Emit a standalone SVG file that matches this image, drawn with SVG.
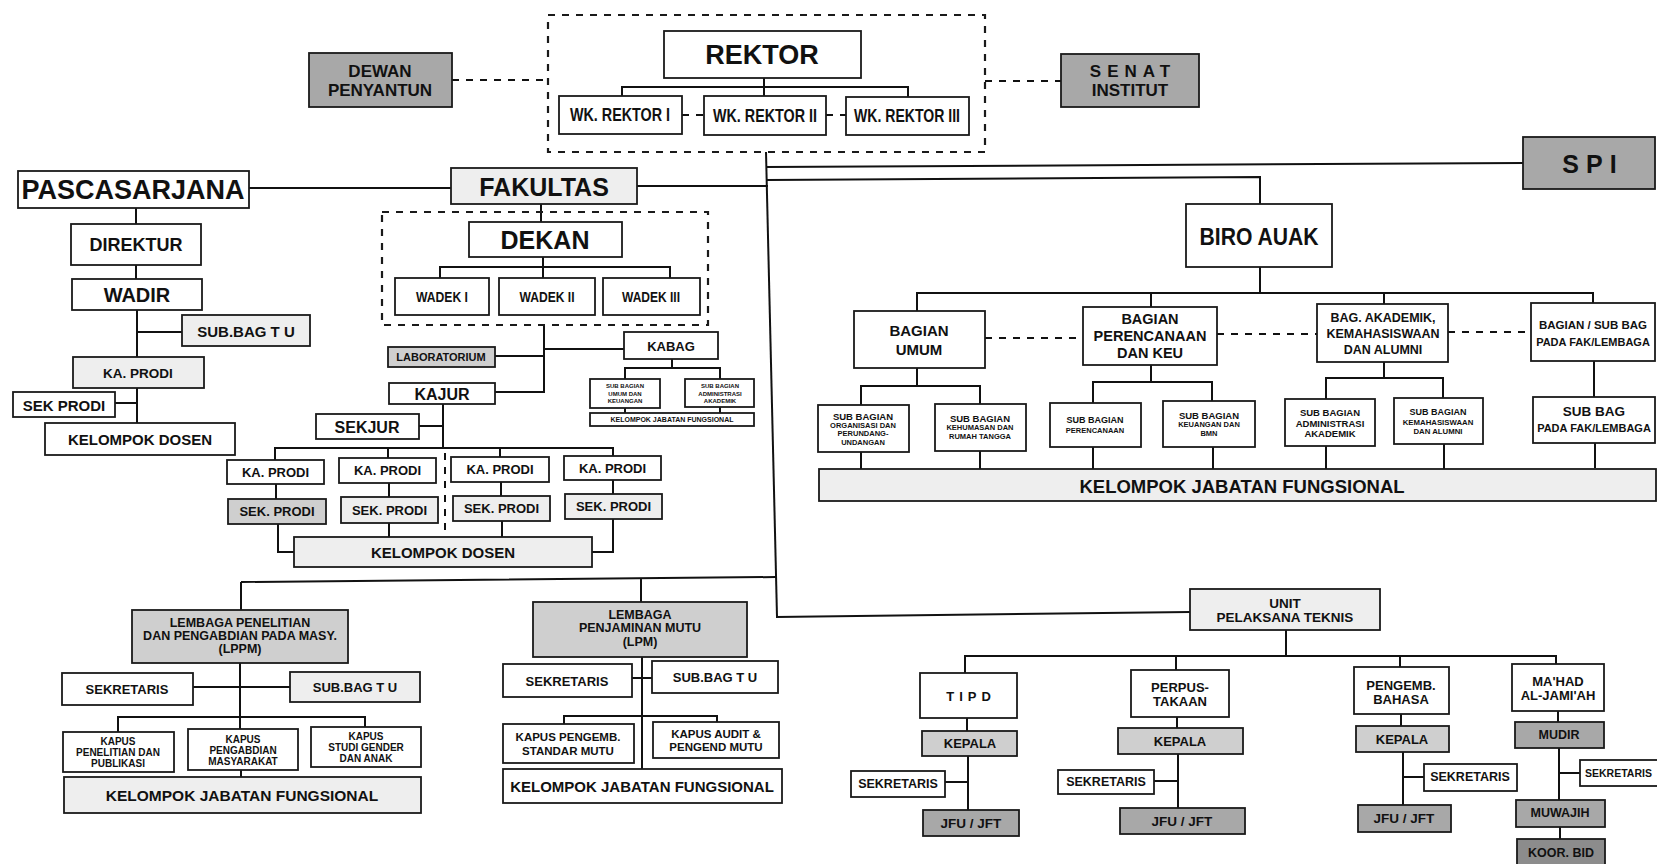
<svg xmlns="http://www.w3.org/2000/svg" width="1657" height="864" viewBox="0 0 1657 864">
<style>
rect{fill:#fff;stroke:#1a1a1a;stroke-width:1.8}
rect.l1{fill:#eeeeee}
rect.l2{fill:#cfcfcf}
rect.l3{fill:#a8a8a8}
rect.l4{fill:#8c8c8c}
rect.dbox{fill:none;stroke-dasharray:7 7;stroke-width:2.2}
text{font-family:"Liberation Sans",Arial,sans-serif;font-weight:bold;fill:#111;text-anchor:middle;dominant-baseline:central}
#connectors path{stroke:#111;stroke-width:2;fill:none}
#connectors path.d{stroke-dasharray:7 7}
</style>
<rect width="1657" height="864" style="fill:#fff;stroke:none"/>

<g id="connectors">
<path class="d" d="M452 80H548"/>
<path class="d" d="M985 81H1061"/>
<path d="M764 78V87M622 96V87H908V97M764 87V96"/>
<path class="d" d="M682 115H704M826 115H846"/>
<path d="M766 152L777 617"/>
<path d="M766 167L1523 163"/>
<path d="M767 180L1260 177V204"/>
<path d="M637 186H768"/>
<path d="M249 188H451"/>
<path d="M1260 267V293M917 311V293H1593V303M1151 293V307M1384 293V304"/>
<path class="d" d="M985 338H1083M1217 334H1317M1448 332H1531"/>
<path d="M917 368V386M861 405V386H980V404M861 452V470M980 451V470"/>
<path d="M1151 365V382M1093 403V382H1212V401M1093 447V470M1213 447V470"/>
<path d="M1384 362V378M1326 399V378H1443V398M1326 446V470M1444 444V470"/>
<path d="M1594 361V397M1595 443V468"/>
<path d="M136 208V224M136 265V279M137 310V357M137 388V423M137 332H182M115 403H137"/>
<path d="M541 204V222M543 257V267M440 278V267H670V278M543 267V278"/>
<path d="M544 325V392H495M495 356H544M544 349H624"/>
<path d="M672 359V368M625 379V368H720V379M625 408V413M720 407V413"/>
<path d="M443 404V448M419 426H443M275 460V448H613V456M388 448V458M500 448V457"/>
<path d="M276 484V499M389 483V497M501 482V496M613 480V494"/>
<path class="d" d="M445 453V532"/>
<path d="M278 524V552H294M389 523V537M502 521V537M613 519V552H592"/>
<path d="M241 582L776 577M241 582V610M641 578V602"/>
<path d="M240 663V729M193 687H290M118 732V717H365V727M241 770V777"/>
<path d="M642 657V769M632 678H652M564 724V716H717V722"/>
<path d="M776 617L1190 612"/>
<path d="M1286 630V656M965 673V656H1556V664M1176 656V670M1400 656V667"/>
<path d="M967 718V731M968 756V810M945 782H968"/>
<path d="M1177 717V728M1178 754V808M1154 781H1178"/>
<path d="M1401 714V726M1403 752V805M1403 777H1424"/>
<path d="M1558 711V722M1559 748V800M1559 773H1580M1560 827V839"/>
</g>

<g id="rektorat-box"><rect class="dbox" x="548" y="15" width="437" height="137"/></g>
<g id="dewan"><rect class="l3" x="309" y="53" width="143" height="54"/><text x="380" y="71" font-size="17">DEWAN</text><text x="380" y="90" font-size="17">PENYANTUN</text></g>
<g id="senat"><rect class="l3" x="1061" y="54" width="138" height="53"/><text x="1133" y="71" font-size="17" letter-spacing="6">SENAT</text><text x="1130" y="90" font-size="17">INSTITUT</text></g>
<g id="rektor"><rect x="664" y="31" width="197" height="47"/><text x="762" y="55" font-size="27">REKTOR</text></g>
<g id="wr1"><rect x="559" y="96" width="123" height="38"/><text x="620" y="115" font-size="18" textLength="100" lengthAdjust="spacingAndGlyphs">WK. REKTOR I</text></g>
<g id="wr2"><rect x="704" y="96" width="122" height="39"/><text x="765" y="116" font-size="18" textLength="104" lengthAdjust="spacingAndGlyphs">WK. REKTOR II</text></g>
<g id="wr3"><rect x="846" y="97" width="123" height="38"/><text x="907" y="116" font-size="18" textLength="106" lengthAdjust="spacingAndGlyphs">WK. REKTOR III</text></g>
<g id="spi"><rect class="l3" x="1523" y="137" width="132" height="52"/><text x="1593" y="164" font-size="25" letter-spacing="7">SPI</text></g>

<g id="pascasarjana"><rect x="18" y="171" width="231" height="37"/><text x="133" y="190" font-size="27">PASCASARJANA</text></g>
<g id="direktur"><rect x="71" y="224" width="130" height="41"/><text x="136" y="245" font-size="18">DIREKTUR</text></g>
<g id="wadir"><rect x="72" y="279" width="130" height="31"/><text x="137" y="295" font-size="20">WADIR</text></g>
<g id="pasca-subbag"><rect class="l1" x="182" y="315" width="128" height="31"/><text x="246" y="331" font-size="15">SUB.BAG T U</text></g>
<g id="pasca-kaprodi"><rect class="l1" x="73" y="357" width="131" height="31"/><text x="138" y="373" font-size="13.5">KA. PRODI</text></g>
<g id="pasca-sekprodi"><rect x="13" y="392" width="102" height="25"/><text x="64" y="405" font-size="15">SEK PRODI</text></g>
<g id="pasca-dosen"><rect x="45" y="423" width="190" height="32"/><text x="140" y="439" font-size="15">KELOMPOK DOSEN</text></g>

<g id="fakultas"><rect class="l1" x="451" y="168" width="186" height="36"/><text x="544" y="187" font-size="25">FAKULTAS</text></g>
<g id="dekanat-box"><rect class="dbox" x="382" y="212" width="326" height="113"/></g>
<g id="dekan"><rect x="469" y="222" width="153" height="35"/><text x="545" y="240" font-size="25">DEKAN</text></g>
<g id="wadek1"><rect x="395" y="278" width="94" height="37"/><text x="442" y="297" font-size="14" textLength="52" lengthAdjust="spacingAndGlyphs">WADEK I</text></g>
<g id="wadek2"><rect x="499" y="278" width="96" height="37"/><text x="547" y="297" font-size="14" textLength="55" lengthAdjust="spacingAndGlyphs">WADEK II</text></g>
<g id="wadek3"><rect x="603" y="278" width="97" height="37"/><text x="651" y="297" font-size="14" textLength="58" lengthAdjust="spacingAndGlyphs">WADEK III</text></g>
<g id="lab"><rect class="l2" x="388" y="347" width="107" height="20"/><text x="441" y="357" font-size="11">LABORATORIUM</text></g>
<g id="kajur"><rect x="389" y="383" width="106" height="21"/><text x="442" y="394" font-size="16">KAJUR</text></g>
<g id="sekjur"><rect x="316" y="414" width="103" height="25"/><text x="367" y="427" font-size="16">SEKJUR</text></g>
<g id="kabag"><rect x="624" y="332" width="94" height="27"/><text x="671" y="346" font-size="13">KABAG</text></g>
<g id="fak-sub1"><rect x="590" y="379" width="70" height="29"/><text x="625" y="386" font-size="6">SUB BAGIAN</text><text x="625" y="393.5" font-size="6">UMUM DAN</text><text x="625" y="401" font-size="6">KEUANGAN</text></g>
<g id="fak-sub2"><rect x="685" y="379" width="69" height="28"/><text x="720" y="386" font-size="6">SUB BAGIAN</text><text x="720" y="393.5" font-size="6">ADMINISTRASI</text><text x="720" y="401" font-size="6">AKADEMIK</text></g>
<g id="fak-kjf"><rect x="590" y="413" width="164" height="13"/><text x="672" y="419.5" font-size="7">KELOMPOK JABATAN FUNGSIONAL</text></g>
<g id="kaprodi1"><rect x="227" y="460" width="97" height="24"/><text x="275.5" y="472" font-size="13">KA. PRODI</text></g>
<g id="kaprodi2"><rect x="339" y="458" width="97" height="25"/><text x="387.5" y="470.5" font-size="13">KA. PRODI</text></g>
<g id="kaprodi3"><rect x="451" y="457" width="98" height="25"/><text x="500" y="469.5" font-size="13">KA. PRODI</text></g>
<g id="kaprodi4"><rect x="564" y="456" width="97" height="24"/><text x="612.5" y="468" font-size="13">KA. PRODI</text></g>
<g id="sekprodi1"><rect class="l2" x="228" y="499" width="98" height="25"/><text x="277" y="511.5" font-size="13">SEK. PRODI</text></g>
<g id="sekprodi2"><rect class="l1" x="341" y="497" width="97" height="26"/><text x="389.5" y="510" font-size="13">SEK. PRODI</text></g>
<g id="sekprodi3"><rect class="l1" x="453" y="496" width="97" height="25"/><text x="501.5" y="508.5" font-size="13">SEK. PRODI</text></g>
<g id="sekprodi4"><rect class="l1" x="565" y="494" width="97" height="25"/><text x="613.5" y="506.5" font-size="13">SEK. PRODI</text></g>
<g id="fak-dosen"><rect class="l1" x="294" y="537" width="298" height="30"/><text x="443" y="552" font-size="15">KELOMPOK DOSEN</text></g>

<g id="biro"><rect x="1186" y="204" width="146" height="63"/><text x="1259" y="236" font-size="24" textLength="119" lengthAdjust="spacingAndGlyphs">BIRO AUAK</text></g>
<g id="bag-umum"><rect x="854" y="311" width="131" height="57"/><text x="919" y="330" font-size="15">BAGIAN</text><text x="919" y="349" font-size="15">UMUM</text></g>
<g id="bag-perenc"><rect x="1083" y="307" width="134" height="58"/><text x="1150" y="319" font-size="14.5">BAGIAN</text><text x="1150" y="336" font-size="14.5">PERENCANAAN</text><text x="1150" y="353" font-size="14.5">DAN KEU</text></g>
<g id="bag-akad"><rect x="1317" y="304" width="131" height="58"/><text x="1383" y="318" font-size="12.5">BAG. AKADEMIK,</text><text x="1383" y="334" font-size="12.5">KEMAHASISWAAN</text><text x="1383" y="350" font-size="12.5">DAN ALUMNI</text></g>
<g id="bag-fak"><rect x="1531" y="303" width="124" height="58"/><text x="1593" y="325" font-size="11.5">BAGIAN / SUB BAG</text><text x="1593" y="342" font-size="11">PADA FAK/LEMBAGA</text></g>
<g id="sub-org"><rect x="818" y="405" width="91" height="47"/><text x="863" y="416" font-size="9.5">SUB BAGIAN</text><text x="863" y="425" font-size="7.5">ORGANISASI DAN</text><text x="863" y="433.5" font-size="7.5">PERUNDANG-</text><text x="863" y="442" font-size="7.5">UNDANGAN</text></g>
<g id="sub-humas"><rect x="935" y="404" width="91" height="47"/><text x="980" y="418" font-size="9.5">SUB BAGIAN</text><text x="980" y="427" font-size="7.5">KEHUMASAN DAN</text><text x="980" y="436" font-size="7.5">RUMAH TANGGA</text></g>
<g id="sub-perenc"><rect x="1050" y="403" width="91" height="44"/><text x="1095" y="420" font-size="9">SUB BAGIAN</text><text x="1095" y="430" font-size="7.5">PERENCANAAN</text></g>
<g id="sub-keu"><rect x="1163" y="401" width="92" height="46"/><text x="1209" y="415" font-size="9.5">SUB BAGIAN</text><text x="1209" y="424" font-size="7.5">KEUANGAN DAN</text><text x="1209" y="433" font-size="7.5">BMN</text></g>
<g id="sub-adm"><rect x="1285" y="399" width="90" height="47"/><text x="1330" y="412" font-size="9.5">SUB BAGIAN</text><text x="1330" y="423" font-size="9.5">ADMINISTRASI</text><text x="1330" y="433" font-size="9.5">AKADEMIK</text></g>
<g id="sub-kemah"><rect x="1394" y="398" width="89" height="46"/><text x="1438" y="412" font-size="9">SUB BAGIAN</text><text x="1438" y="422" font-size="7.8">KEMAHASISWAAN</text><text x="1438" y="431" font-size="7.8">DAN ALUMNI</text></g>
<g id="sub-fak"><rect x="1533" y="397" width="122" height="46"/><text x="1594" y="411" font-size="13.5">SUB BAG</text><text x="1594" y="428" font-size="11">PADA FAK/LEMBAGA</text></g>
<g id="biro-kjf"><rect class="l1" x="819" y="469" width="837" height="32"/><text x="1242" y="486" font-size="18.5">KELOMPOK JABATAN FUNGSIONAL</text></g>

<g id="lppm"><rect class="l2" x="132" y="610" width="216" height="53"/><text x="240" y="623" font-size="12.5">LEMBAGA PENELITIAN</text><text x="240" y="636" font-size="12.5">DAN PENGABDIAN PADA MASY.</text><text x="240" y="649" font-size="12.5">(LPPM)</text></g>
<g id="lppm-sek"><rect x="62" y="673" width="131" height="32"/><text x="127" y="689" font-size="13">SEKRETARIS</text></g>
<g id="lppm-subbag"><rect class="l1" x="290" y="672" width="130" height="30"/><text x="355" y="687" font-size="13">SUB.BAG T U</text></g>
<g id="kapus-pen"><rect x="63" y="732" width="111" height="40"/><text x="118" y="741" font-size="10">KAPUS</text><text x="118" y="752" font-size="10">PENELITIAN DAN</text><text x="118" y="763" font-size="10">PUBLIKASI</text></g>
<g id="kapus-pengabdian"><rect x="188" y="729" width="110" height="41"/><text x="243" y="739" font-size="10">KAPUS</text><text x="243" y="750" font-size="10">PENGABDIAN</text><text x="243" y="761" font-size="10">MASYARAKAT</text></g>
<g id="kapus-gender"><rect x="311" y="727" width="110" height="40"/><text x="366" y="736" font-size="10">KAPUS</text><text x="366" y="747" font-size="10">STUDI GENDER</text><text x="366" y="758" font-size="10">DAN ANAK</text></g>
<g id="lppm-kjf"><rect class="l1" x="64" y="777" width="357" height="36"/><text x="242" y="795" font-size="15.5">KELOMPOK JABATAN FUNGSIONAL</text></g>

<g id="lpm"><rect class="l2" x="533" y="602" width="214" height="55"/><text x="640" y="615" font-size="12.5">LEMBAGA</text><text x="640" y="628" font-size="12.5">PENJAMINAN MUTU</text><text x="640" y="642" font-size="12.5">(LPM)</text></g>
<g id="lpm-sek"><rect x="503" y="664" width="129" height="33"/><text x="567" y="681" font-size="13">SEKRETARIS</text></g>
<g id="lpm-subbag"><rect x="652" y="661" width="126" height="32"/><text x="715" y="677" font-size="13">SUB.BAG T U</text></g>
<g id="kapus-standar"><rect x="503" y="724" width="131" height="39"/><text x="568" y="737" font-size="11.5">KAPUS PENGEMB.</text><text x="568" y="751" font-size="11.5">STANDAR MUTU</text></g>
<g id="kapus-audit"><rect x="653" y="722" width="126" height="36"/><text x="716" y="734" font-size="11.5">KAPUS AUDIT &amp;</text><text x="716" y="747" font-size="11.5">PENGEND MUTU</text></g>
<g id="lpm-kjf"><rect x="503" y="769" width="279" height="34"/><text x="642" y="786" font-size="15">KELOMPOK JABATAN FUNGSIONAL</text></g>

<g id="upt"><rect class="l1" x="1190" y="589" width="190" height="41"/><text x="1285" y="603" font-size="13.5">UNIT</text><text x="1285" y="617" font-size="13.5">PELAKSANA TEKNIS</text></g>
<g id="tipd"><rect x="920" y="673" width="97" height="45"/><text x="971" y="696" font-size="13" letter-spacing="5">TIPD</text></g>
<g id="tipd-kepala"><rect class="l2" x="922" y="731" width="95" height="25"/><text x="970" y="743" font-size="13">KEPALA</text></g>
<g id="tipd-sek"><rect x="851" y="771" width="94" height="26"/><text x="898" y="784" font-size="12.5">SEKRETARIS</text></g>
<g id="tipd-jfu"><rect class="l3" x="923" y="810" width="96" height="26"/><text x="971" y="823" font-size="13.5">JFU / JFT</text></g>
<g id="perpus"><rect x="1131" y="670" width="98" height="47"/><text x="1180" y="687" font-size="13">PERPUS-</text><text x="1180" y="701" font-size="13">TAKAAN</text></g>
<g id="perpus-kepala"><rect class="l2" x="1118" y="728" width="125" height="26"/><text x="1180" y="741" font-size="13">KEPALA</text></g>
<g id="perpus-sek"><rect x="1058" y="770" width="96" height="24"/><text x="1106" y="782" font-size="12.5">SEKRETARIS</text></g>
<g id="perpus-jfu"><rect class="l3" x="1120" y="808" width="125" height="26"/><text x="1182" y="821" font-size="13.5">JFU / JFT</text></g>
<g id="bahasa"><rect x="1354" y="667" width="95" height="47"/><text x="1401" y="685" font-size="13">PENGEMB.</text><text x="1401" y="699" font-size="13">BAHASA</text></g>
<g id="bahasa-kepala"><rect class="l2" x="1356" y="726" width="93" height="26"/><text x="1402" y="739" font-size="13">KEPALA</text></g>
<g id="bahasa-sek"><rect x="1424" y="764" width="93" height="27"/><text x="1470" y="777" font-size="12.5">SEKRETARIS</text></g>
<g id="bahasa-jfu"><rect class="l3" x="1358" y="805" width="93" height="27"/><text x="1404" y="818" font-size="13.5">JFU / JFT</text></g>
<g id="mahad"><rect x="1512" y="664" width="92" height="47"/><text x="1558" y="681" font-size="13">MA'HAD</text><text x="1558" y="695" font-size="13">AL-JAMI'AH</text></g>
<g id="mudir"><rect class="l3" x="1515" y="722" width="89" height="26"/><text x="1559" y="735" font-size="12.5">MUDIR</text></g>
<g id="mahad-sek"><rect x="1580" y="760" width="90" height="26"/><text x="1585" y="773" font-size="10.5" style="text-anchor:start">SEKRETARIS</text></g>
<g id="muwajih"><rect class="l3" x="1516" y="800" width="89" height="27"/><text x="1560" y="813" font-size="12.5">MUWAJIH</text></g>
<g id="koorbid"><rect class="l4" x="1517" y="839" width="88" height="32"/><text x="1561" y="853" font-size="12.5">KOOR. BID</text></g>
</svg>
